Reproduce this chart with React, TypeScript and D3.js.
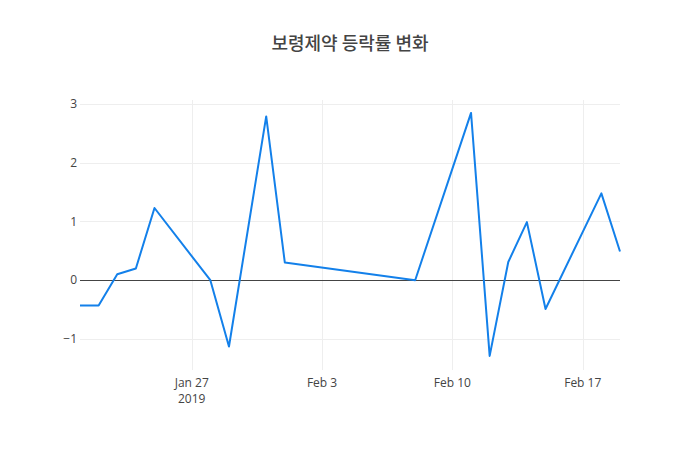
import React, { useEffect, useRef } from 'react';
import * as d3 from 'd3';

const title = '보령제약 등락률 변화';

const dates = [
  '2019-01-21', '2019-01-22', '2019-01-23', '2019-01-24', '2019-01-25',
  '2019-01-28', '2019-01-29', '2019-01-31', '2019-02-01', '2019-02-08',
  '2019-02-11', '2019-02-12', '2019-02-13', '2019-02-14', '2019-02-15',
  '2019-02-18', '2019-02-19',
];
const changes = [
  -0.43, -0.43, 0.1, 0.2, 1.23,
  0.0, -1.13, 2.79, 0.3, 0.0,
  2.85, -1.29, 0.31, 0.99, -0.49,
  1.48, 0.49,
];
const yTicks = [-1, 0, 1, 2, 3];
const xTicks = ['2019-01-27', '2019-02-03', '2019-02-10', '2019-02-17'];
const xTickLabels = ['Jan 27', 'Feb 3', 'Feb 10', 'Feb 17'];
const yearLabel = '2019';

const App = () => {
  const svgRef = useRef<SVGSVGElement>(null);

  useEffect(() => {
    const svg = d3.select(svgRef.current);
    svg.selectAll('*').remove();

    const width = 700;
    const height = 450;
    const m = { l: 80, r: 80, t: 100, b: 80 };
    const parse = d3.timeParse('%Y-%m-%d');
    const data = dates.map((d, i) => ({ date: parse(d)!, v: changes[i] }));

    const x = d3.scaleTime()
      .domain([parse('2019-01-21')!, parse('2019-02-19')!])
      .range([m.l, width - m.r]);
    const y = d3.scaleLinear()
      .domain([-1.53, 3.07])
      .range([height - m.b, m.t]);

    const font = '"Open Sans", "Noto Sans", sans-serif';

    svg.append('rect').attr('width', width).attr('height', height).attr('fill', '#fff');

    // grid
    svg.append('g')
      .selectAll('line')
      .data(xTicks)
      .enter()
      .append('line')
      .attr('x1', d => Math.round(x(parse(d)!)) + 0.5)
      .attr('x2', d => Math.round(x(parse(d)!)) + 0.5)
      .attr('y1', m.t)
      .attr('y2', height - m.b)
      .attr('stroke', '#eee')
      .attr('stroke-width', 1);

    svg.append('g')
      .selectAll('line')
      .data(yTicks.filter(t => t !== 0))
      .enter()
      .append('line')
      .attr('x1', m.l)
      .attr('x2', width - m.r)
      .attr('y1', d => Math.round(y(d)) + 0.5)
      .attr('y2', d => Math.round(y(d)) + 0.5)
      .attr('stroke', '#eee')
      .attr('stroke-width', 1);

    // zero line
    svg.append('line')
      .attr('x1', m.l)
      .attr('x2', width - m.r)
      .attr('y1', Math.round(y(0)) + 0.5)
      .attr('y2', Math.round(y(0)) + 0.5)
      .attr('stroke', '#444')
      .attr('stroke-width', 1);

    // y labels
    svg.append('g')
      .selectAll('text')
      .data(yTicks)
      .enter()
      .append('text')
      .attr('x', m.l - 3)
      .attr('y', d => y(d) + 4)
      .attr('text-anchor', 'end')
      .style('font-family', font)
      .style('font-size', '12px')
      .style('fill', '#444')
      .text(d => (d < 0 ? '\u2212' + Math.abs(d) : String(d)));

    // x labels
    svg.append('g')
      .selectAll('text')
      .data(xTicks)
      .enter()
      .append('text')
      .attr('x', d => x(parse(d)!))
      .attr('y', height - m.b + 17)
      .attr('text-anchor', 'middle')
      .style('font-family', font)
      .style('font-size', '12px')
      .style('fill', '#444')
      .text((d, i) => xTickLabels[i]);

    svg.append('text')
      .attr('x', x(parse(xTicks[0])!))
      .attr('y', height - m.b + 33)
      .attr('text-anchor', 'middle')
      .style('font-family', font)
      .style('font-size', '12px')
      .style('fill', '#444')
      .text(yearLabel);

    // line
    const line = d3.line<{ date: Date; v: number }>()
      .x(d => x(d.date))
      .y(d => y(d.v));

    svg.append('path')
      .datum(data)
      .attr('d', line)
      .attr('fill', 'none')
      .attr('stroke', '#1380ea')
      .attr('stroke-width', 2)
      .attr('stroke-linejoin', 'round');

    // title
    svg.append('text')
      .attr('x', width / 2)
      .attr('y', 50)
      .attr('text-anchor', 'middle')
      .style('font-family', '"Noto Sans CJK KR", "Open Sans", sans-serif')
      .style('font-size', '18px')
      .style('font-weight', 500)
      .style('fill', '#444')
      .text(title);
  }, []);

  return (
    <svg
      ref={svgRef}
      width={700}
      height={450}
      style={{ position: 'absolute', left: 0, top: 0 }}
    />
  );
};

export default App;
